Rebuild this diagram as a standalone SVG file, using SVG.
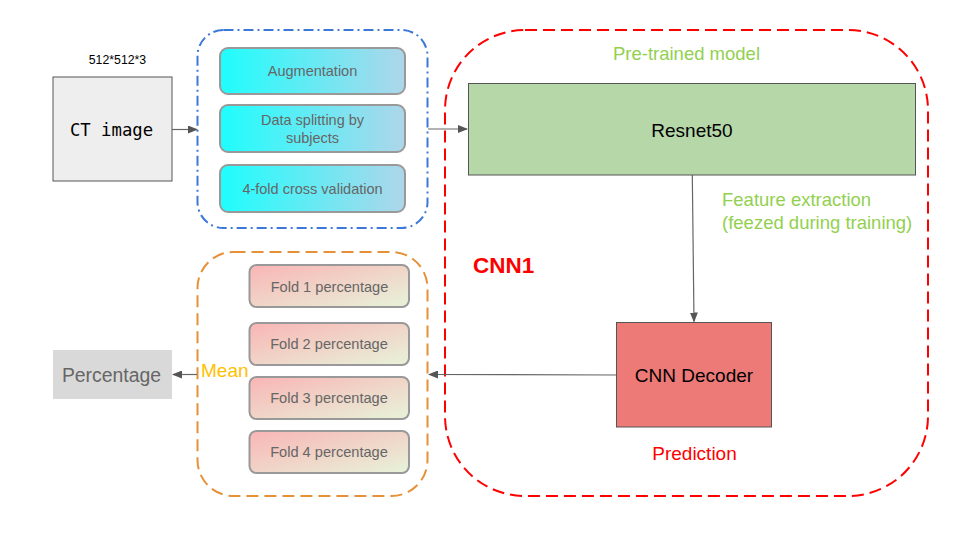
<svg xmlns="http://www.w3.org/2000/svg" width="960" height="540" viewBox="0 0 960 540">
<defs>
<linearGradient id="gCyan" x1="0" y1="0" x2="1" y2="0">
<stop offset="0" stop-color="#1ffdfd"/>
<stop offset="1" stop-color="#aed6ea"/>
</linearGradient>
<linearGradient id="gFold" x1="0" y1="0" x2="1" y2="1">
<stop offset="0" stop-color="#f9b5b5"/>
<stop offset="1" stop-color="#e7f3d9"/>
</linearGradient>
<marker id="ah" markerWidth="10" markerHeight="8" refX="9" refY="4" orient="auto" markerUnits="userSpaceOnUse">
<path d="M0,0 L10,4 L0,8 Z" fill="#555"/>
</marker>
<style>
.lbl{font-family:"Liberation Sans",Arial,sans-serif;fill:#666;text-anchor:middle}
.step{fill:url(#gCyan);stroke:#999;stroke-width:2}
.fold{fill:url(#gFold);stroke:#999;stroke-width:2}
.conn{stroke:#666;stroke-width:1.2;fill:none}
.green{font-family:"Liberation Sans",Arial,sans-serif;font-size:18.5px;fill:#92d050}
</style>
</defs>
<rect width="960" height="540" fill="#fff"/>

<g id="containers">
<rect id="preproc" x="197.5" y="30" width="230" height="198" rx="26" fill="none" stroke="#3c78d8" stroke-width="2" stroke-dasharray="10,4,2,4"/>
<rect id="cnn1" x="445" y="30" width="483" height="466" rx="80" fill="none" stroke="#ff0000" stroke-width="2" stroke-dasharray="12,6"/>
<rect id="foldgroup" x="197.5" y="252" width="230" height="244" rx="36" fill="none" stroke="#e69138" stroke-width="2" stroke-dasharray="12,6"/>
</g>

<g id="connectors">
<line class="conn" x1="172" y1="129.5" x2="197" y2="129.5" marker-end="url(#ah)"/>
<line class="conn" x1="428" y1="129" x2="467" y2="129" marker-end="url(#ah)"/>
<line class="conn" x1="692.3" y1="175" x2="694" y2="321.5" marker-end="url(#ah)"/>
<line class="conn" x1="616" y1="375" x2="429" y2="374.5" marker-end="url(#ah)"/>
<line class="conn" x1="197" y1="374.5" x2="173" y2="374.5" marker-end="url(#ah)"/>
</g>

<g id="size-label"><text x="117.5" y="64" font-family="Liberation Sans,Arial,sans-serif" font-size="12.3" text-anchor="middle" fill="#000">512*512*3</text></g>

<g id="ct-image">
<rect x="53" y="77" width="119" height="104" fill="#eeeeee" stroke="#555" stroke-width="1"/>
<text x="111.5" y="136" font-family="DejaVu Sans Mono,Liberation Mono,monospace" font-size="17.3" text-anchor="middle" fill="#000">CT image</text>
</g>

<g id="augmentation">
<rect class="step" x="220" y="48" width="185" height="46" rx="8"/>
<text class="lbl" x="312.5" y="76" font-size="14.5">Augmentation</text>
</g>
<g id="splitting">
<rect class="step" x="220" y="105" width="185" height="47" rx="8"/>
<text class="lbl" x="312.5" y="125" font-size="14.5">Data splitting by</text>
<text class="lbl" x="312.5" y="143" font-size="14.5">subjects</text>
</g>
<g id="crossval">
<rect class="step" x="220" y="165" width="185" height="47" rx="8"/>
<text class="lbl" x="312.5" y="194" font-size="14.5">4-fold cross validation</text>
</g>

<g id="pretrained-label"><text class="green" x="686.5" y="60" text-anchor="middle">Pre-trained model</text></g>

<g id="resnet50">
<rect x="468.5" y="83.5" width="447" height="91.5" fill="#b6d7a8" stroke="#555" stroke-width="1"/>
<text x="692" y="136.5" font-family="Liberation Sans,Arial,sans-serif" font-size="19" text-anchor="middle" fill="#000">Resnet50</text>
</g>

<g id="feature-label">
<text class="green" x="722" y="205.5">Feature extraction</text>
<text class="green" x="722" y="228.5">(feezed during training)</text>
</g>

<g id="cnn1-label"><text x="473" y="272.5" font-family="Liberation Sans,Arial,sans-serif" font-size="22.5" font-weight="bold" fill="#ff0000">CNN1</text></g>

<g id="cnn-decoder">
<rect x="616.5" y="322.5" width="155" height="104.5" fill="#ee7a78" stroke="#555" stroke-width="1"/>
<text x="694" y="381.5" font-family="Liberation Sans,Arial,sans-serif" font-size="19" text-anchor="middle" fill="#000">CNN Decoder</text>
</g>

<g id="prediction-label"><text x="694.5" y="459.5" font-family="Liberation Sans,Arial,sans-serif" font-size="19" text-anchor="middle" fill="#ff0000">Prediction</text></g>

<g id="fold1">
<rect class="fold" x="249.5" y="265" width="159.5" height="42" rx="7"/>
<text class="lbl" x="329.5" y="292" font-size="14.6">Fold 1 percentage</text>
</g>
<g id="fold2">
<rect class="fold" x="249.5" y="323" width="159.5" height="42" rx="7"/>
<text class="lbl" x="329" y="349" font-size="14.6">Fold 2 percentage</text>
</g>
<g id="fold3">
<rect class="fold" x="249.5" y="377" width="159.5" height="42" rx="7"/>
<text class="lbl" x="329" y="403" font-size="14.6">Fold 3 percentage</text>
</g>
<g id="fold4">
<rect class="fold" x="249.5" y="431" width="159.5" height="42" rx="7"/>
<text class="lbl" x="329" y="457" font-size="14.6">Fold 4 percentage</text>
</g>

<g id="mean-label"><text x="201" y="376.5" font-family="Liberation Sans,Arial,sans-serif" font-size="19" fill="#ffc000">Mean</text></g>

<g id="percentage">
<rect x="53" y="350" width="119" height="49" fill="#d9d9d9"/>
<text class="lbl" x="111.5" y="381.5" font-size="19.4">Percentage</text>
</g>
</svg>
